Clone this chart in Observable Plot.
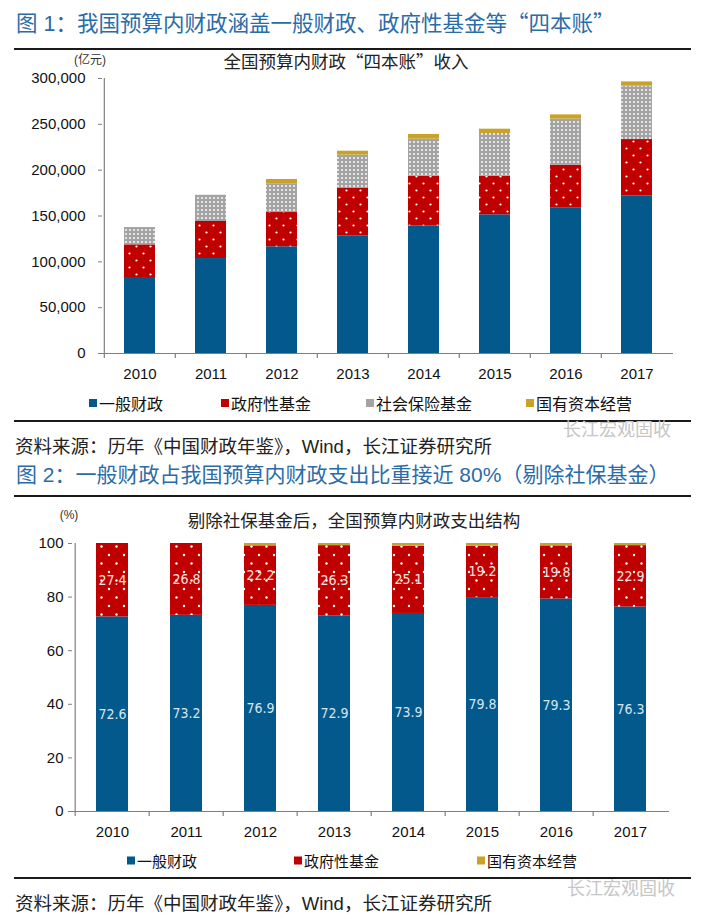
<!DOCTYPE html>
<html lang="zh-CN">
<head>
<meta charset="utf-8">
<script src="https://cdn.jsdelivr.net/npm/d3@7"></script>
<script src="https://cdn.jsdelivr.net/npm/@observablehq/plot@0.6"></script>
<style>
body{margin:0;background:#fff;}
#page{position:relative;width:702px;height:919px;overflow:hidden;font-family:"Liberation Sans","Noto Sans CJK SC",sans-serif;color:#111;background:#fff;}
.abs{position:absolute;white-space:nowrap;z-index:2;}
.q{font-family:"Noto Sans CJK SC",sans-serif;}
.title{left:16px;font-size:21.5px;color:#2a6ca8;transform:translateY(-50%);}
.rule{position:absolute;left:14px;width:677px;height:2px;background:#1a1a1a;z-index:1;}
.sub{font-size:17.5px;color:#222;transform:translate(-50%,-50%);}
.unit{font-size:12px;color:#333;transform:translate(-50%,-50%);}
.src{left:15px;font-size:18.5px;color:#222;transform:translateY(-50%);}
.wm{font-size:18px;color:#c6c6c6;transform:translateY(-50%);z-index:3;}
.leg{color:#111;transform:translateY(-50%);display:flex;align-items:center;}
.leg i{display:inline-block;width:8px;height:8px;margin-right:2px;}
svg.chart{position:absolute;left:0;z-index:0;}
</style>
</head>
<body>
<div id="page"></div>
<script>
// ---------- data ----------
const years = ["2010","2011","2012","2013","2014","2015","2016","2017"];

// Figure 1: revenue of the "four accounts" (亿元), segment values
const revSeries = ["一般财政","政府性基金","社会保险基金","国有资本经营"];
const revGeneral = [82900, 103600, 116400, 128400, 139300, 151300, 158500, 172000];
const revGovFund = [35600, 40400, 37400, 51600, 54100, 42100, 46900, 61400];
const revSocial  = [18900, 28700, 30900, 36400, 40400, 46600, 50200, 58200];
const revSOE     = [0, 0, 5100, 4300, 5100, 4700, 4700, 4700];
const revTicks = [0, 50000, 100000, 150000, 200000, 250000, 300000];

// Figure 2: expenditure structure excl. social insurance (%)
const shareSeries = ["一般财政","政府性基金","国有资本经营"];
const shareGeneral = [72.6, 73.2, 76.9, 72.9, 73.9, 79.8, 79.3, 76.3];
const shareGovFund = [27.4, 26.8, 22.2, 26.3, 25.1, 19.2, 19.8, 22.9];
const shareSOE     = [0, 0, 0.9, 0.8, 1.0, 1.0, 0.9, 0.8];
const shareTicks = [0, 20, 40, 60, 80, 100];

// texts
const title1 = "图 1：我国预算内财政涵盖一般财政、政府性基金等“四本账”";
const sub1 = "全国预算内财政“四本账”收入";
const unit1 = "(亿元)";
const title2 = "图 2：一般财政占我国预算内财政支出比重接近 80%（剔除社保基金）";
const sub2 = "剔除社保基金后，全国预算内财政支出结构";
const unit2 = "(%)";
const source = "资料来源：历年《中国财政年鉴》，Wind，长江证券研究所";
const watermark = "长江宏观固收";

// colours
const BLUE = "#03598c", RED = "#c00000", GRAY = "#a3a3a3", GOLD = "#c9a227";

// ---------- build tables ----------
const revData = years.flatMap((yr, i) => [
  {year: yr, series: revSeries[0], value: revGeneral[i]},
  {year: yr, series: revSeries[1], value: revGovFund[i]},
  {year: yr, series: revSeries[2], value: revSocial[i]},
  {year: yr, series: revSeries[3], value: revSOE[i]}
]);
const shareData = years.flatMap((yr, i) => [
  {year: yr, series: shareSeries[0], value: shareGeneral[i]},
  {year: yr, series: shareSeries[1], value: shareGovFund[i]},
  {year: yr, series: shareSeries[2], value: shareSOE[i]}
]);

const page = document.getElementById("page");
const FONT = "'Liberation Sans','Noto Sans CJK SC',sans-serif";
const NUMFONT = "'Liberation Sans Narrow','DejaVu Sans Condensed','Liberation Sans',sans-serif";
const W = 702;
const AX = "#7f7f7f";

function addDefs(svg, html) {
  const defs = document.createElementNS("http://www.w3.org/2000/svg", "defs");
  defs.innerHTML = html;
  svg.insertBefore(defs, svg.firstChild);
}

// ---------- chart 1 ----------
const m1 = {top: 38, right: 29, bottom: 37, left: 102};
const H1 = 350;
const step1 = (W - m1.left - m1.right) / years.length;
const chart1 = Plot.plot({
  width: W, height: H1,
  marginTop: m1.top, marginRight: m1.right, marginBottom: m1.bottom, marginLeft: m1.left,
  style: {fontFamily: FONT, fontSize: "15px", color: "#111", background: "transparent", overflow: "visible"},
  x: {domain: years, paddingInner: 0.565, paddingOuter: 0.2825, label: null},
  y: {domain: [0, 300000], label: null},
  color: {domain: revSeries, range: [BLUE, "url(#dotRed1)", "url(#dotGray1)", GOLD]},
  marks: [
    Plot.barY(revData, Plot.stackY({x: "year", y: "value", z: "series", fill: "series"})),
    Plot.ruleY([0], {stroke: AX, strokeWidth: 1.2}),
    Plot.ruleX([years[0]], {x: d => d, dx: -step1 / 2, y1: 300000, y2: 0, insetBottom: -5, stroke: AX, strokeWidth: 1.2}),
    Plot.ruleX(years.slice(1), {x: d => d, dx: -step1 / 2, y1: 0, y2: 0, insetBottom: -5, stroke: AX, strokeWidth: 1.2}),
    Plot.axisY({ticks: revTicks, tickFormat: d3.format(","), tickSize: 4, tickPadding: 13, stroke: AX, fill: "#111", fontSize: 15, label: null}),
    Plot.axisX({tickSize: 0, tickPadding: 15, fill: "#111", fontSize: 15, label: null})
  ]
});
chart1.classList.add("chart");
chart1.style.top = "40px";
chart1.style.maxWidth = "none";
addDefs(chart1,
  `<pattern id="dotRed1" width="14" height="14" patternUnits="userSpaceOnUse">
     <rect width="14" height="14" fill="${RED}"/>
     <circle cx="3.5" cy="3.5" r="1.1" fill="#fff"/>
     <circle cx="10.5" cy="10.5" r="1.1" fill="#fff"/>
   </pattern>
   <pattern id="dotGray1" width="4" height="4" patternUnits="userSpaceOnUse">
     <rect width="4" height="4" fill="${GRAY}"/>
     <circle cx="2" cy="2" r="1.1" fill="#f4f4f4"/>
   </pattern>`);
page.appendChild(chart1);

// ---------- chart 2 ----------
const m2 = {top: 43, right: 33, bottom: 34, left: 72};
const H2 = 345;
const step2 = (W - m2.left - m2.right) / years.length;
const chart2 = Plot.plot({
  width: W, height: H2,
  marginTop: m2.top, marginRight: m2.right, marginBottom: m2.bottom, marginLeft: m2.left,
  style: {fontFamily: FONT, fontSize: "15px", color: "#111", background: "transparent", overflow: "visible"},
  x: {domain: years, paddingInner: 0.57, paddingOuter: 0.285, label: null},
  y: {domain: [0, 100], label: null},
  color: {domain: shareSeries, range: [BLUE, "url(#dotRed2)", GOLD]},
  marks: [
    Plot.barY(shareData, Plot.stackY({x: "year", y: "value", z: "series", fill: "series"})),
    Plot.text(shareData, Plot.stackY({x: "year", y: "value", z: "series",
      text: d => d.series === shareSeries[0] ? d.value.toFixed(1) : null,
      fill: "#d6e6f4", fontSize: 14, fontFamily: NUMFONT})),
    Plot.text(shareData, Plot.stackY({x: "year", y: "value", z: "series",
      text: d => d.series === shareSeries[1] ? d.value.toFixed(1) : null,
      fill: "#fbe3e3", fontSize: 14, fontFamily: NUMFONT})),
    Plot.ruleY([0], {stroke: AX, strokeWidth: 1.2}),
    Plot.ruleX([years[0]], {x: d => d, dx: -step2 / 2, y1: 100, y2: 0, insetBottom: -5, stroke: AX, strokeWidth: 1.2}),
    Plot.ruleX(years.slice(1), {x: d => d, dx: -step2 / 2, y1: 0, y2: 0, insetBottom: -5, stroke: AX, strokeWidth: 1.2}),
    Plot.axisY({ticks: shareTicks, tickSize: 4, tickPadding: 5, stroke: AX, fill: "#111", fontSize: 15, label: null}),
    Plot.axisX({tickSize: 0, tickPadding: 15, fill: "#111", fontSize: 15, label: null})
  ]
});
chart2.classList.add("chart");
chart2.style.top = "500px";
chart2.style.maxWidth = "none";
addDefs(chart2,
  `<pattern id="dotRed2" width="15" height="17" patternUnits="userSpaceOnUse">
     <rect width="15" height="17" fill="${RED}"/>
     <circle cx="4" cy="4" r="1.2" fill="#fff"/>
     <circle cx="11.5" cy="12.5" r="1.2" fill="#fff"/>
   </pattern>`);
page.appendChild(chart2);

// ---------- HTML text overlays ----------
function fillText(el, text) {
  // curly quotes drawn with the CJK font so they are full-width
  text.split(/([“”])/).forEach(part => {
    if (!part) return;
    if (part === "“" || part === "”") {
      const s = document.createElement("span");
      s.className = "q";
      s.textContent = part;
      el.appendChild(s);
    } else {
      el.appendChild(document.createTextNode(part));
    }
  });
}
function addEl(cls, text, left, top, extra) {
  const d = document.createElement("div");
  d.className = "abs " + cls;
  fillText(d, text);
  if (left != null) d.style.left = left + "px";
  d.style.top = top + "px";
  if (extra) Object.assign(d.style, extra);
  page.appendChild(d);
  return d;
}
function addRule(top) {
  const d = document.createElement("div");
  d.className = "rule";
  d.style.top = top + "px";
  page.appendChild(d);
}
function addLegend(names, colors, lefts, top, size) {
  names.forEach((n, i) => {
    const d = document.createElement("div");
    d.className = "abs leg";
    d.style.left = lefts[i] + "px";
    d.style.top = top + "px";
    d.style.fontSize = size + "px";
    const sw = document.createElement("i");
    sw.style.background = colors[i];
    d.appendChild(sw);
    d.appendChild(document.createTextNode(n));
    page.appendChild(d);
  });
}

// figure 1
addEl("title", title1, null, 21);
addRule(48);
addEl("unit", unit1, 90, 58);
addEl("sub", sub1, 346, 60);
addLegend(revSeries, [BLUE, RED, GRAY, GOLD], [89, 221, 366, 526], 403, 16);
addRule(420);
addEl("wm", watermark, 563, 428);
addEl("src", source, null, 445);

// figure 2
addEl("title", title2, null, 473, {fontSize: "21px"});
addRule(495);
addEl("unit", unit2, 69, 515);
addEl("sub", sub2, 354, 519);
addLegend(shareSeries, [BLUE, RED, GOLD], [127, 294, 477], 860, 15);
addRule(877);
addEl("wm", watermark, 567, 887);
addEl("src", source, null, 902);
</script>
</body>
</html>
